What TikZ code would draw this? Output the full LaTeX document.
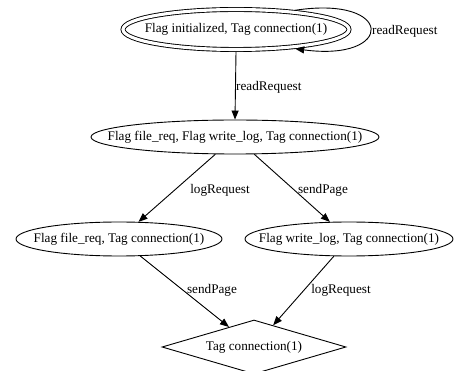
\documentclass[tikz,border=0pt]{standalone}
\usepackage{fontspec}
\setmainfont{Liberation Serif}
\usetikzlibrary{shapes.geometric,arrows.meta}
\begin{document}
\begin{tikzpicture}[x=1pt,y=-1pt,
  every node/.style={font=\fontsize{13.2}{15}\selectfont},
  state/.style={ellipse,draw,line width=0.9pt,inner sep=0pt,minimum height=34pt},
  edge/.style={draw,line width=0.9pt,-{Triangle[length=9pt,width=7pt]}},
  elabel/.style={inner sep=0pt}]
\useasboundingbox (0,0) rectangle (455,371);
\node[state,double,double distance=3.1pt,minimum width=226pt,minimum height=40pt,outer sep=2.4pt] (top) at (236,29.5) {\makebox[0pt]{Flag initialized, Tag connection(1)}};
\node[state,minimum width=288pt] (mid) at (235,137) {\makebox[0pt]{Flag file\_req, Flag write\_log, Tag connection(1)}};
\node[state,minimum width=206pt] (left) at (119,239) {\makebox[0pt]{Flag file\_req, Tag connection(1)}};
\node[state,minimum width=208pt] (right) at (349,239) {\makebox[0pt]{Flag write\_log, Tag connection(1)}};
\node[diamond,draw,line width=0.9pt,inner sep=0pt,aspect=3.4,minimum width=184pt,minimum height=54pt] (fin) at (254,347) {Tag connection(1)};

\draw[edge] (top.south) -- (mid.north);
\draw[edge] (top.18) .. controls (395,-5) and (395,62) .. (top.-18);
\draw[edge] (mid) -- (left);
\draw[edge] (mid) -- (right);
\draw[edge] (left) -- (fin);
\draw[edge] (right) -- (fin);

\node[elabel,anchor=west] (l1) at (236,87) {readRequest};
\node[elabel,anchor=west] (l0) at (372,31) {readRequest};
\node[elabel] (l2) at (220,190) {logRequest};
\node[elabel] (l3) at (323,190) {sendPage};
\node[elabel] (l4) at (212,290) {sendPage};
\node[elabel] (l5) at (341,290) {logRequest};
\end{tikzpicture}
\end{document}
